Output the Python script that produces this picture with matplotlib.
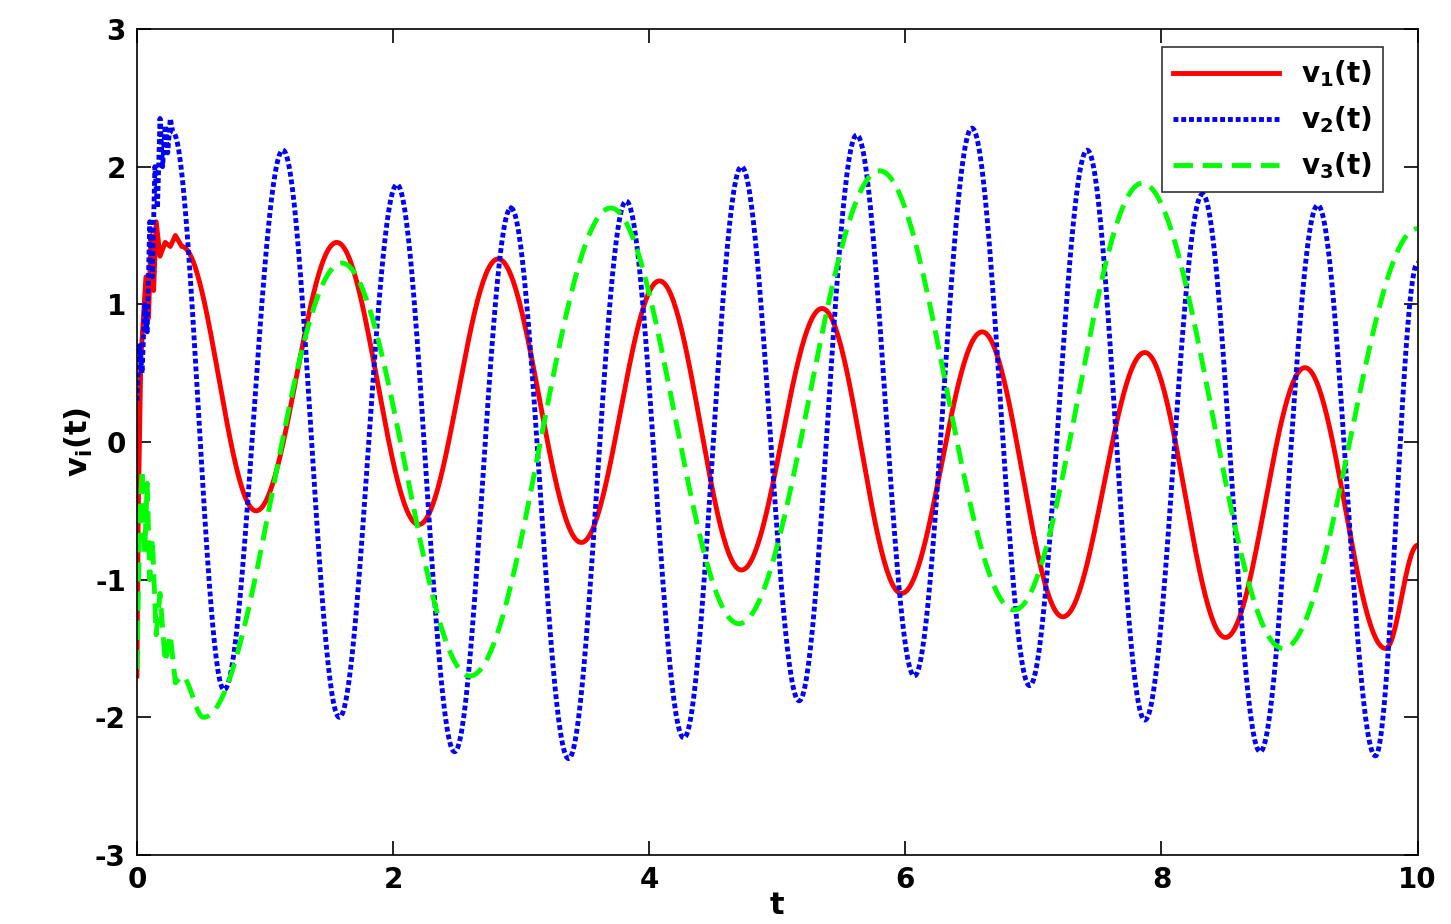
import numpy as np
import matplotlib
matplotlib.use("Agg")
import matplotlib.pyplot as plt

# early transient
v1_early_t = [0.0, 0.01, 0.03, 0.05, 0.07, 0.09, 0.11, 0.13, 0.15, 0.18, 0.22, 0.26, 0.30, 0.35]
v1_early_v = [-1.7, -0.5, 0.6, 0.9, 1.2, 0.9, 1.5, 1.1, 1.6, 1.35, 1.45, 1.42, 1.5, 1.42]
v2_early_t = [0.0, 0.02, 0.04, 0.06, 0.08, 0.10, 0.12, 0.14, 0.16, 0.18, 0.20, 0.22, 0.24, 0.26, 0.28]
v2_early_v = [0.3, 0.7, 0.5, 1.0, 0.8, 1.6, 1.2, 2.0, 1.7, 2.35, 2.0, 2.3, 2.1, 2.35, 2.25]
v3_early_t = [0.0, 0.02, 0.04, 0.06, 0.08, 0.10, 0.12, 0.15, 0.18, 0.22, 0.26, 0.30, 0.35]
v3_early_v = [-1.65, -0.6, -0.2, -0.8, -0.3, -1.0, -0.7, -1.4, -1.1, -1.6, -1.4, -1.75, -1.7]

# extrema after transient
v1_t = [0.35, 0.93, 1.56, 2.20, 2.82, 3.47, 4.08, 4.72, 5.35, 5.97, 6.60, 7.23, 7.87, 8.50, 9.12, 9.75, 10.0]
v1_v = [1.42, -0.50, 1.45, -0.60, 1.33, -0.73, 1.17, -0.93, 0.97, -1.10, 0.80, -1.27, 0.65, -1.42, 0.54, -1.50, -0.75]
v2_t = [0.28, 0.68, 1.14, 1.58, 2.03, 2.48, 2.92, 3.37, 3.82, 4.27, 4.72, 5.17, 5.62, 6.07, 6.52, 6.97, 7.42, 7.87, 8.32, 8.77, 9.22, 9.67, 10.0]
v2_v = [2.25, -1.80, 2.12, -2.00, 1.87, -2.25, 1.70, -2.30, 1.75, -2.15, 2.00, -1.88, 2.23, -1.70, 2.28, -1.77, 2.12, -2.02, 1.80, -2.25, 1.72, -2.28, 1.30]
v3_t = [0.35, 0.52, 1.60, 2.60, 3.70, 4.70, 5.80, 6.85, 7.85, 8.95, 10.0]
v3_v = [-1.70, -2.00, 1.30, -1.70, 1.70, -1.32, 1.97, -1.22, 1.88, -1.50, 1.55]

def smooth(ts, vs, n=60):
    T, V = [], []
    for i in range(len(ts) - 1):
        s = np.linspace(0, 1, n)
        w = (1 - np.cos(np.pi * s)) / 2
        T.append(ts[i] + (ts[i+1] - ts[i]) * s)
        V.append(vs[i] + (vs[i+1] - vs[i]) * w)
    return np.concatenate(T), np.concatenate(V)

plt.rcParams['font.family'] = ['DejaVu Sans']
plt.rcParams['font.weight'] = 'bold'
plt.rcParams['axes.unicode_minus'] = False
plt.rcParams['mathtext.default'] = 'bf'
fig = plt.figure(figsize=(14.51, 9.24), dpi=100)
ax = fig.add_axes([0.0944, 0.0747, 0.8826, 0.8939])

t1, y1 = smooth(v1_t, v1_v)
t2, y2 = smooth(v2_t, v2_v)
t3, y3 = smooth(v3_t, v3_v)
ax.plot(np.r_[v1_early_t, t1], np.r_[v1_early_v, y1], color='#ff0000', lw=3.5, label='v$_1$(t)')
ax.plot(np.r_[v2_early_t, t2], np.r_[v2_early_v, y2], color='#0000ff', lw=3.5, ls=(0, (1, 0.6)), label='v$_2$(t)')
ax.plot(np.r_[v3_early_t, t3], np.r_[v3_early_v, y3], color='#00ff00', lw=3.5, ls=(0, (4, 2)), label='v$_3$(t)')

ax.set_xlim(0, 10)
ax.set_ylim(-3, 3)
ax.set_xticks([0, 2, 4, 6, 8, 10])
ax.set_yticks([-3, -2, -1, 0, 1, 2, 3])
ax.tick_params(direction='in', top=True, right=True, labelsize=20, length=10, width=1.2, pad=8)
for lab in ax.get_xticklabels() + ax.get_yticklabels():
    lab.set_fontweight('bold')
for sp in ax.spines.values():
    sp.set_linewidth(1.2)
ax.set_xlabel('t', fontsize=22, fontweight='bold', labelpad=-2)
ax.set_ylabel('v$_i$(t)', fontsize=22, fontweight='bold', labelpad=0)
leg = ax.legend(loc='upper right', bbox_to_anchor=(0.973, 0.978), prop={'weight': 'bold', 'size': 20},
                fancybox=False, edgecolor='black', handlelength=3.8, borderaxespad=0.0,
                labelspacing=0.55)
leg.get_frame().set_linewidth(1.2)
fig.savefig('out.png', dpi=100)
